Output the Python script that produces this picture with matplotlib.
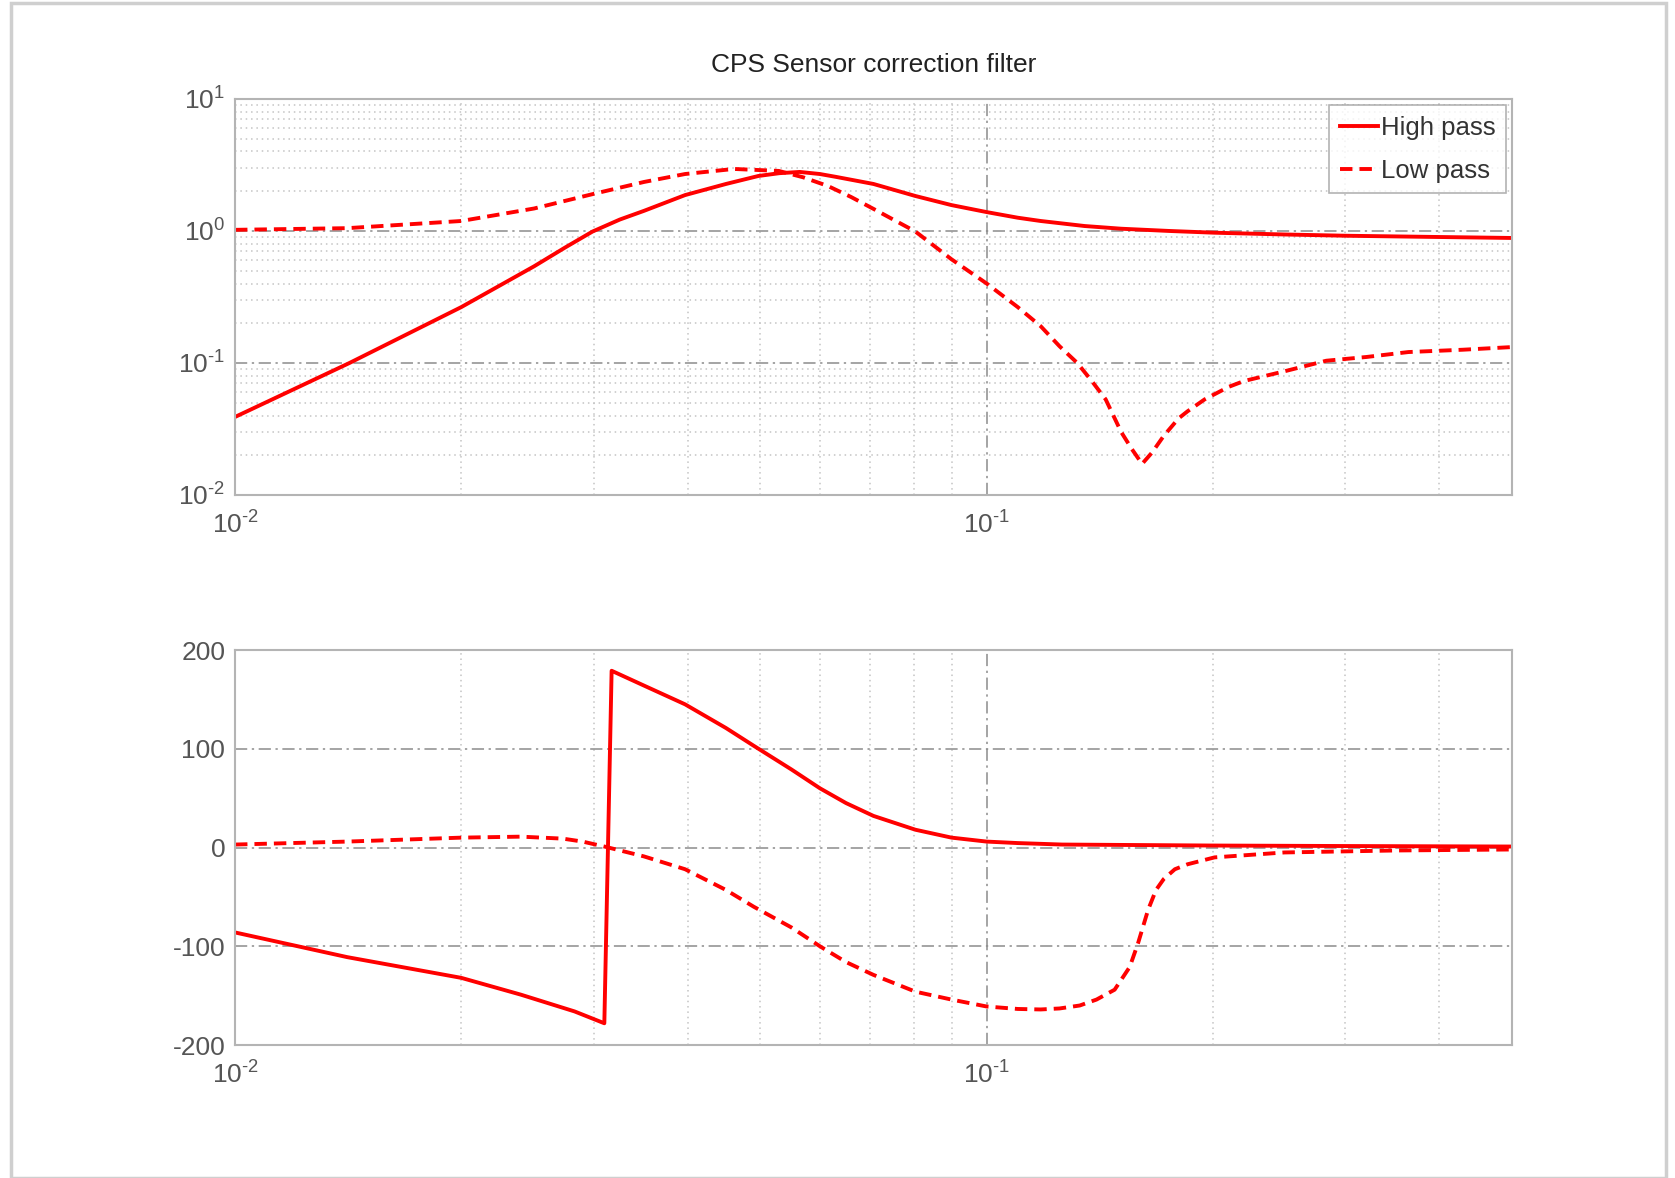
import math
import matplotlib
matplotlib.use("Agg")
import matplotlib.pyplot as plt
from matplotlib.ticker import LogLocator, FixedLocator, FuncFormatter, NullFormatter
from matplotlib.patches import Rectangle

plt.rcParams['font.family'] = ['Liberation Sans', 'DejaVu Sans']
plt.rcParams['mathtext.fontset'] = 'custom'
plt.rcParams['mathtext.rm'] = 'Liberation Sans'
plt.rcParams['axes.unicode_minus'] = False

# magnitude, high pass
hp_mag_f = [0.01, 0.0142, 0.020, 0.025, 0.0275, 0.0299, 0.0325, 0.035, 0.0397, 0.045, 0.0497, 0.0530,
            0.0564, 0.0600, 0.0630, 0.0707, 0.0804, 0.0898, 0.100, 0.110, 0.118, 0.135, 0.151, 0.175,
            0.201, 0.250, 0.301, 0.400, 0.50]
hp_mag = [0.039, 0.10, 0.265, 0.54, 0.75, 0.99, 1.22, 1.42, 1.87, 2.27, 2.61, 2.74,
          2.80, 2.70, 2.57, 2.27, 1.84, 1.57, 1.39, 1.26, 1.19, 1.09, 1.04, 1.00,
          0.97, 0.94, 0.92, 0.90, 0.885]

# magnitude, low pass
lp_mag_f = [0.01, 0.0141, 0.020, 0.025, 0.030, 0.035, 0.0397, 0.0461, 0.0529, 0.0570, 0.0615, 0.066,
            0.0707, 0.0804, 0.0898, 0.100, 0.110, 0.118, 0.125, 0.132, 0.138, 0.144, 0.151, 0.156,
            0.161, 0.166, 0.172, 0.180, 0.185, 0.195, 0.210, 0.220, 0.250, 0.283, 0.320, 0.364,
            0.430, 0.50]
lp_mag = [1.02, 1.05, 1.19, 1.48, 1.91, 2.35, 2.70, 2.95, 2.85, 2.55, 2.19, 1.81,
          1.47, 0.99, 0.61, 0.40, 0.265, 0.19, 0.134, 0.10, 0.073, 0.053, 0.030, 0.0223,
          0.0172, 0.021, 0.028, 0.038, 0.043, 0.053, 0.066, 0.073, 0.087, 0.104, 0.111, 0.121,
          0.126, 0.132]

# phase, high pass
hp_ph_f = [0.01, 0.0141, 0.020, 0.024, 0.0283, 0.0310, 0.0317, 0.035, 0.0397, 0.045, 0.049, 0.055,
           0.060, 0.065, 0.0707, 0.0804, 0.0898, 0.100, 0.110, 0.126, 0.20, 0.30, 0.50]
hp_ph = [-86, -111, -132, -149, -166, -178, 179, 164, 145, 121, 103, 79,
         60, 45, 32, 18, 10, 6, 4.5, 3, 2, 1.5, 1]

# phase, low pass
lp_ph_f = [0.01, 0.0141, 0.020, 0.024, 0.0273, 0.029, 0.031, 0.035, 0.0397, 0.045, 0.049, 0.055,
           0.060, 0.065, 0.0707, 0.0804, 0.0898, 0.100, 0.110, 0.118, 0.125, 0.133, 0.140, 0.148,
           0.155, 0.159, 0.164, 0.168, 0.172, 0.178, 0.185, 0.201, 0.249, 0.35, 0.50]
lp_ph = [3, 6, 10, 11, 9, 6, 1, -9, -22, -43, -60, -81,
         -100, -116, -129, -146, -154, -161, -163.5, -164, -163, -160, -154, -144,
         -121, -97, -63, -43, -32, -22, -17, -10, -5, -3, -2]

red = '#ff0000'
grey = '#8c8c8c'
txt = '#555555'

fig = plt.figure(figsize=(16.75, 11.78), dpi=100)
fig.patches.append(Rectangle((0.0066, 0.0), 0.988, 0.9975, transform=fig.transFigure,
                             fill=False, edgecolor='#cfcfcf', lw=2.5))

ax1 = fig.add_axes([0.1403, 0.5798, 0.7624, 0.3362])
ax2 = fig.add_axes([0.1403, 0.1129, 0.7624, 0.3353])


def pow_fmt(v, pos):
    e = int(round(math.log10(v)))
    return r'$\mathregular{10^{\text{%d}}}$' % e


for ax in (ax1, ax2):
    ax.set_xscale('log')
    ax.set_xlim(0.01, 0.5)
    ax.xaxis.set_major_locator(FixedLocator([0.01, 0.1]))
    ax.xaxis.set_minor_locator(LogLocator(base=10, subs=range(2, 10)))
    ax.xaxis.set_major_formatter(FuncFormatter(pow_fmt))
    ax.xaxis.set_minor_formatter(NullFormatter())
    ax.tick_params(which='both', length=0, labelsize=19, colors=txt, pad=7)
    ax.tick_params(axis='x', pad=12)
    for s in ax.spines.values():
        s.set_color('#b4b4b4')
        s.set_linewidth(1.5)
    ax.grid(True, which='major', axis='both', color=grey, ls=(0, (8, 3, 1.5, 3)), lw=1.1)
    ax.grid(True, which='minor', axis='x', color='#c4c4c4', ls=(0, (1, 2.5)), lw=1.1)

ax1.set_yscale('log')
ax1.set_ylim(0.01, 10)
ax1.yaxis.set_major_locator(FixedLocator([0.01, 0.1, 1, 10]))
ax1.yaxis.set_minor_locator(LogLocator(base=10, subs=range(2, 10)))
ax1.yaxis.set_major_formatter(FuncFormatter(pow_fmt))
ax1.yaxis.set_minor_formatter(NullFormatter())
ax1.grid(True, which='minor', axis='y', color='#c4c4c4', ls=(0, (1, 2.5)), lw=1.1)

ax1.plot(hp_mag_f, hp_mag, color=red, lw=2.8, label='High pass')
ax1.plot(lp_mag_f, lp_mag, color=red, lw=2.8, ls=(0, (3.2, 1.8)), label='Low pass')

leg = ax1.legend(loc='upper right', fontsize=18.5, frameon=True, fancybox=False,
                 handlelength=1.5, handletextpad=0.1, borderpad=0.4, labelspacing=0.75,
                 borderaxespad=0.25)
leg.get_frame().set_edgecolor('#a0a0a0')
leg.get_frame().set_linewidth(1.2)
for t in leg.get_texts():
    t.set_color('#333333')

ax2.set_ylim(-200, 200)
ax2.yaxis.set_major_locator(FixedLocator([-200, -100, 0, 100, 200]))
ax2.plot(hp_ph_f, hp_ph, color=red, lw=2.8)
ax2.plot(lp_ph_f, lp_ph, color=red, lw=2.8, ls=(0, (3.2, 1.8)))

fig.text(0.5215, 0.9445, 'CPS Sensor correction filter', ha='center', va='center',
         fontsize=19, color='#222222')

fig.savefig('out.png', dpi=100)
